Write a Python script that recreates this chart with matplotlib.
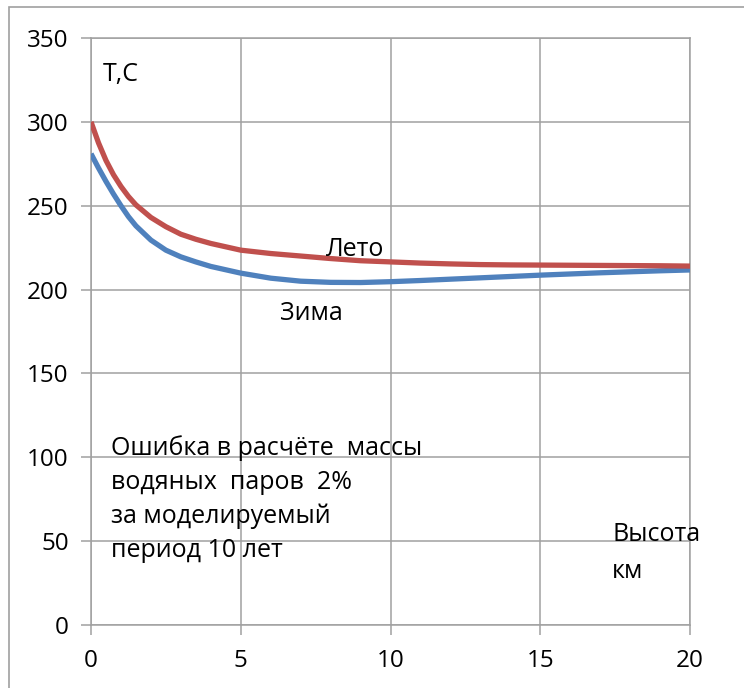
import matplotlib
matplotlib.use('Agg')
import matplotlib.pyplot as plt
from matplotlib.patches import Rectangle

plt.rcParams['font.family'] = ['Open Sans', 'DejaVu Sans']

# Height, km
height_km = [0, 0.25, 0.5, 0.75, 1, 1.25, 1.5, 2, 2.5, 3, 3.5, 4, 5, 6, 7, 8,
             9, 10, 11, 12, 13, 14, 15, 16, 17, 18, 19, 20]
# Summer (Лето) temperature
t_summer = [300, 287.5, 277, 268.5, 261.5, 255.5, 250.5, 243, 237.5, 233,
            230, 227.5, 223.5, 221.5, 220, 218.5, 217.2, 216.5, 215.8, 215.3,
            214.9, 214.7, 214.6, 214.5, 214.4, 214.3, 214.2, 214.0]
# Winter (Зима) temperature
t_winter = [281, 272.5, 264.5, 257, 250, 243.5, 238, 229.5, 223.5, 219.5,
            216.5, 213.8, 209.8, 206.8, 205.0, 204.3, 204.2, 204.7, 205.4,
            206.2, 207.0, 207.8, 208.6, 209.3, 210.0, 210.6, 211.2, 211.7]

x_ticks = [0, 5, 10, 15, 20]
y_ticks = [0, 50, 100, 150, 200, 250, 300, 350]

GRID = '#a0a0a0'
RED = '#c0504d'
BLUE = '#4f81bd'

fig = plt.figure(figsize=(7.44, 6.88), dpi=100)
# outer chart frame (runs off right/bottom edge)
fig.patches.append(Rectangle((9 / 744, -0.1), 1.2, 1 - 7 / 688 + 0.1,
                             transform=fig.transFigure, fill=False,
                             edgecolor=GRID, lw=1.2))
ax = fig.add_axes([91 / 744, 1 - 625 / 688, 599 / 744, 587 / 688])

ax.plot(height_km, t_winter, color=BLUE, lw=3.8, solid_joinstyle='round',
        solid_capstyle='butt', zorder=3)
ax.plot(height_km, t_summer, color=RED, lw=3.8, solid_joinstyle='round',
        solid_capstyle='butt', zorder=3)

ax.set_xlim(0, 20)
ax.set_ylim(0, 350)
ax.set_xticks(x_ticks)
ax.set_yticks(y_ticks)
ax.grid(True, color=GRID, lw=1.1)
ax.set_axisbelow(True)
for s in ax.spines.values():
    s.set_color(GRID)
    s.set_linewidth(1.1)
ax.tick_params(colors=GRID, labelcolor='black', labelsize=17.5,
               length=7, width=1.1, direction='out')
ax.tick_params(axis='x', pad=10)
ax.tick_params(axis='y', pad=9)

fs = 18
ax.text(0.4, 328, 'T,C', fontsize=fs, va='center', ha='left')
ax.text(7.85, 224, 'Лето', fontsize=fs, va='center', ha='left')
ax.text(6.3, 186, 'Зима', fontsize=fs, va='center', ha='left')
ax.text(17.4, 54, 'Высота', fontsize=fs, va='center', ha='left')
ax.text(17.4, 32, 'км', fontsize=fs, va='center', ha='left')
ax.text(0.67, 113, 'Ошибка в расчёте  массы\nводяных  паров  2%\n'
        'за моделируемый\nпериод 10 лет',
        fontsize=fs, va='top', ha='left', linespacing=1.45)

fig.savefig('out.png', dpi=100)
